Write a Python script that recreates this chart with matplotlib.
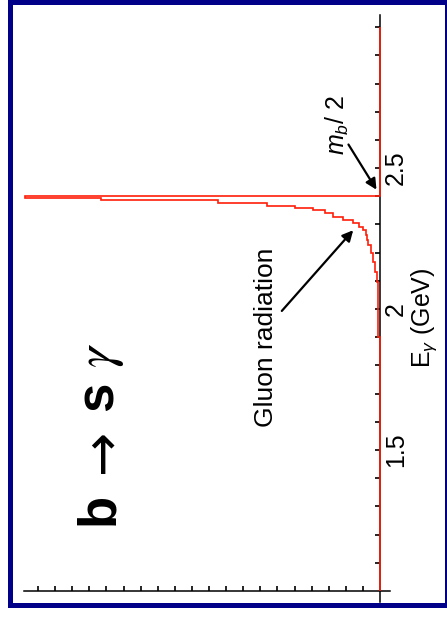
import matplotlib
matplotlib.use("Agg")
import matplotlib.pyplot as plt
from matplotlib.patches import Rectangle

plt.rcParams["font.family"] = ["Liberation Sans", "DejaVu Sans"]
plt.rcParams["mathtext.fontset"] = "custom"
plt.rcParams["mathtext.rm"] = "Liberation Sans"
plt.rcParams["mathtext.it"] = "Liberation Sans:italic"

# photon energy bin edges (GeV) and spectrum height per bin (arbitrary units)
energy_edges = [1.0, 1.90, 2.096, 2.131, 2.167, 2.199, 2.227, 2.245, 2.262,
                2.280, 2.291, 2.305, 2.316, 2.326, 2.340, 2.351, 2.358,
                2.365, 2.376, 2.387, 2.393, 2.400, 3.0]
spectrum = [0.0, 0.13, 0.18, 0.29, 0.41, 0.53, 0.68, 0.74, 0.82, 0.99,
            1.23, 1.58, 2.16, 2.75, 3.2, 3.9, 5.0, 6.6, 9.5, 16.3, 20.75, 0.0]

energy_ticks = [1.1, 1.2, 1.3, 1.4, 1.5, 1.6, 1.7, 1.8, 1.9, 2.0,
                2.1, 2.2, 2.3, 2.4, 2.5, 2.6, 2.7, 2.8, 2.9, 3.0]
energy_labels = {1.5: "1.5", 2.0: "2", 2.5: "2.5"}
count_ticks = list(range(1, 21))

RED = "#ff1e0a"
NAVY = "#000088"

fig = plt.figure(figsize=(4.47, 6.17), dpi=100)
ax = fig.add_axes([24 / 447, 15 / 617, 366 / 447, 587 / 617])

ax.stairs(spectrum, energy_edges, orientation="horizontal", baseline=0,
          color=RED, lw=1.2, zorder=3, clip_on=False)

ax.set_xlim(20.82, -0.585)
ax.set_ylim(0.961, 3.043)

# axes cross at (0, 1 GeV)
ax.spines["left"].set_visible(False)
ax.spines["top"].set_visible(False)
ax.spines["right"].set_position(("data", 0))
ax.spines["bottom"].set_position(("data", 1.0))
for s in ("right", "bottom"):
    ax.spines[s].set_linewidth(1.1)
ax.yaxis.set_ticks_position("right")
ax.xaxis.set_ticks_position("bottom")

ax.set_xticks(count_ticks)
ax.set_xticklabels([])
ax.set_yticks(energy_ticks)
ax.set_yticklabels([energy_labels.get(t, "") for t in energy_ticks],
                   rotation=90, va="center", fontsize=18)
ax.tick_params(direction="in", length=3.5, width=1.2)
ax.tick_params(axis="y", pad=3)

ax.text(-2.6, 1.97, r"E$_{\gamma}$ (GeV)", rotation=90, ha="center",
        va="center", fontsize=18, clip_on=False)

# annotations
ax.annotate("", xy=(0.12, 2.415), xytext=(1.93, 2.592),
            arrowprops=dict(arrowstyle="-|>", color="black", lw=1.6,
                            mutation_scale=16))
ax.text(2.51, 2.652, r"$m_b$/ 2", rotation=90, ha="center", va="center",
        fontsize=18)

ax.annotate("", xy=(1.46, 2.287), xytext=(5.85, 1.986),
            arrowprops=dict(arrowstyle="-|>", color="black", lw=1.6,
                            mutation_scale=16))
ax.text(6.65, 1.90, "Gluon radiation", rotation=90, ha="center",
        va="center", fontsize=19)

# b -> s gamma, built piece by piece along the energy axis
title_kw = dict(rotation=90, rotation_mode="anchor", ha="center",
                va="baseline", fontsize=38)
ax.text(15.61, 1.292, "b", fontweight="bold", **title_kw)
ax.text(15.35, 1.496, "\u2192", family="DejaVu Sans", **title_kw)
ax.text(15.61, 1.691, "s", fontweight="bold", **title_kw)
ax.text(15.61, 1.837, r"$\gamma$", math_fontfamily="stix", **title_kw)

# blue frame around the slide
fig.patches.append(Rectangle((9.5 / 447, 12.5 / 617), 437 / 447, 603 / 617,
                             transform=fig.transFigure, fill=False,
                             edgecolor=NAVY, lw=3.6, zorder=10))

fig.savefig("out.png", dpi=100)
